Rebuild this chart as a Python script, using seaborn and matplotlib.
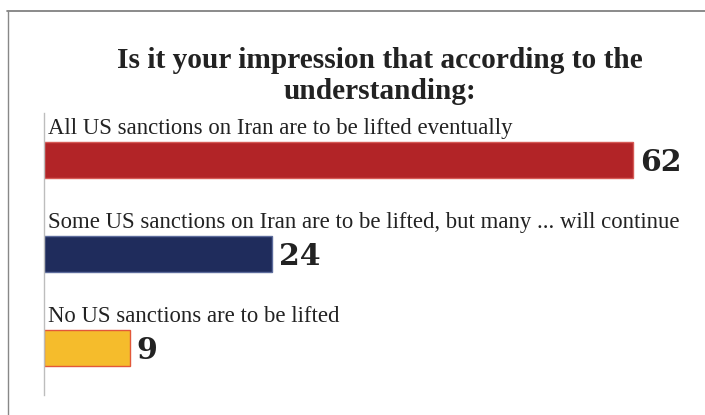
"""
Horizontal bar chart: impression of the sanctions understanding.
Labels sit above each bar, values at the bar end.
"""

import pandas as pd
import seaborn as sns
import matplotlib.pyplot as plt
from matplotlib.lines import Line2D

title = "Is it your impression that according to the\nunderstanding:"
answers = [
    "All US sanctions on Iran are to be lifted eventually",
    "Some US sanctions on Iran are to be lifted, but many ... will continue",
    "No US sanctions are to be lifted",
]
percents = [62, 24, 9]
bar_colors = ["#b22427", "#1f2c5c", "#f5bc2c"]
edge_colors = ["#d65a55", "#5d6c9c", "#e2583a"]


def plot_answers():
    sns.set_style("white")
    plt.rcParams["font.family"] = ["Liberation Serif", "DejaVu Serif"]

    df = pd.DataFrame({"answer": answers, "percent": percents})

    fig = plt.figure(figsize=(7.05, 4.15), dpi=100)
    ax = fig.add_axes([44 / 705, 20 / 415, 646 / 705, 282 / 415])

    sns.barplot(data=df, x="percent", y="answer", hue="answer", palette=bar_colors,
                orient="h", width=0.39, saturation=1, legend=False, ax=ax)
    for bar, ec in zip(ax.patches, edge_colors):
        bar.set_edgecolor(ec)
        bar.set_linewidth(1)

    for i, (txt, val) in enumerate(zip(answers, percents)):
        ax.text(0.4, i - 0.34, txt, fontsize=16.4, color="#222222", va="center", ha="left")
        ax.text(val + 0.75, i + 0.03, str(val), fontsize=21.5, fontweight="bold",
                family="DejaVu Serif", color="#222222", va="center", ha="left")

    ax.set_xlim(0, 68)
    ax.set_ylim(2.5, -0.5)
    ax.set_xticks([])
    ax.set_yticks([])
    ax.set_xlabel("")
    ax.set_ylabel("")
    sns.despine(ax=ax, top=True, right=True, bottom=True, left=False)
    ax.spines["left"].set_color("#bdbdbd")
    ax.spines["left"].set_linewidth(1)

    fig.text(380 / 705, 1 - 76 / 415, title, fontsize=21.2, fontweight="bold",
             ha="center", va="center", color="#222222", linespacing=1.15)

    # frame lines at top and left
    fig.add_artist(Line2D([7 / 705, 1], [1 - 11 / 415, 1 - 11 / 415], color="#777777", lw=1.2))
    fig.add_artist(Line2D([8 / 705, 8 / 705], [0, 1 - 11 / 415], color="#888888", lw=1))

    fig.savefig("out.png", dpi=100)


plot_answers()
